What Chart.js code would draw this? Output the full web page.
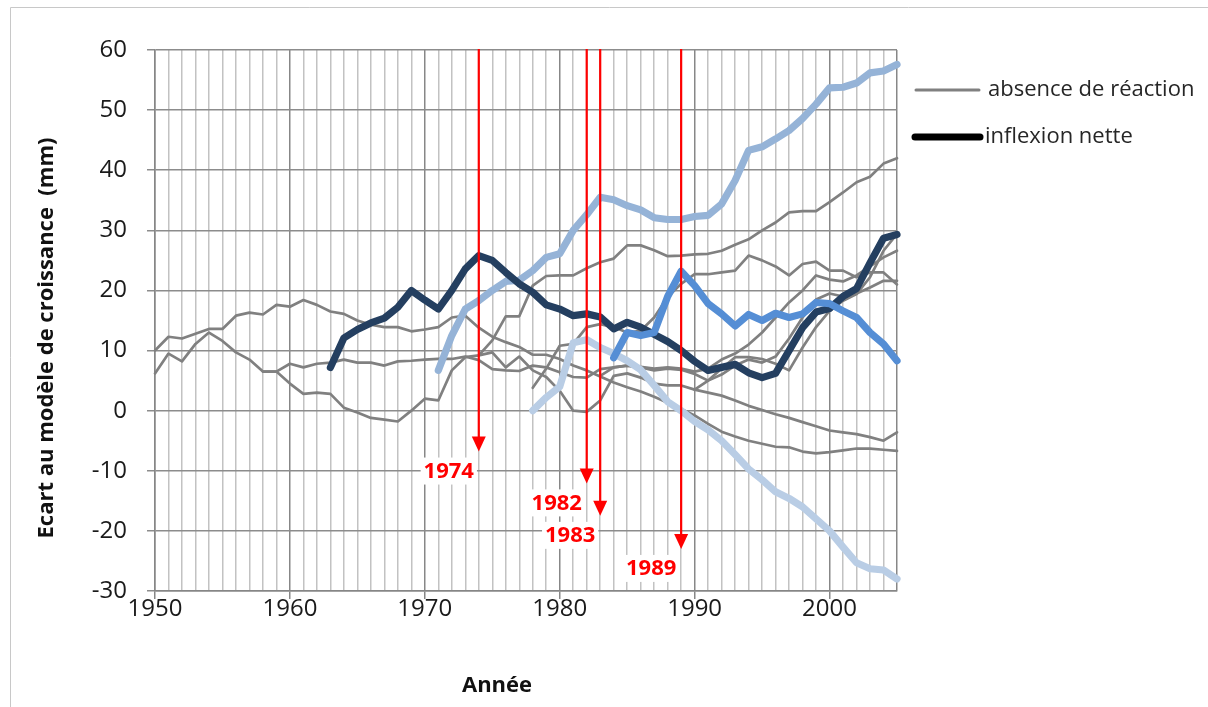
<!DOCTYPE html>
<html>
<head>
<meta charset="utf-8">
<script src="https://cdn.jsdelivr.net/npm/chart.js@4.4.1/dist/chart.umd.min.js"></script>
<style>
html,body{margin:0;padding:0;background:#fff;}
#wrap{position:relative;width:1208px;height:707px;}
canvas{display:block;}
</style>
</head>
<body>
<div id="wrap"><canvas id="c" width="1208" height="707"></canvas></div>
<script>
// ---- data (years and values) ----
const yTicks = [-30,-20,-10,0,10,20,30,40,50,60];
const xLabelYears = [1950,1960,1970,1980,1990,2000];

// gray series: "absence de réaction"
const g1Start = 1950;
const g1 = [10,12.3,12,12.8,13.6,13.6,15.8,16.3,16,17.6,17.3,18.4,17.6,16.5,16.1,15,14.3,13.9,13.9,13.2,13.5,
            13.9,15.5,15.8,13.8,12.3,11.4,10.6,9.3,9.3,8.6,
            7.5,6.7,5.7,4.7,3.9,3.2,2.3,1.3,0.3,-0.8,
            -2.2,-3.5,-4.3,-5,-5.5,-6,-6.1,-6.8,-7.1,-6.9,
            -6.6,-6.3,-6.3,-6.5,-6.7];
const g2Start = 1950;
const g2 = [6.2,9.5,8.2,11.1,13,11.6,9.7,8.5,6.5,6.5,4.5,2.8,3,2.8,0.5,-0.3,-1.2,-1.5,-1.8,0,2,
            1.7,6.7,8.9,9.2,11.7,15.7,15.7,20.8,22.4,22.5,
            22.5,23.7,24.7,25.3,27.5,27.5,26.7,25.7,25.8,26,
            26.1,26.6,27.6,28.5,30,31.3,33,33.2,33.2,34.7,
            36.3,38,38.9,41.1,42];
const g3Start = 1958;
const g3 = [6.5,6.5,7.8,7.2,7.8,8,8.5,8,8,7.5,8.2,8.3,8.5,
            8.6,8.6,9,8.4,6.9,6.7,6.6,7.5,7.2,6.4,
            5.6,5.5,6.9,7.2,7.5,7.2,6.7,7,6.8,6.1,
            5,7,8.9,8.9,8.6,7.8,6.7,10.5,13.9,16.6,
            18.3,19.4,22.2,26.6,29.4];
const g4Start = 1974;
const g4 = [9.2,9.7,7.2,9,6.7,5.6,3.3,
            0,-0.2,1.7,5.8,6.2,5.5,4.5,4.2,4.2,3.5,
            3,2.5,1.7,0.8,0.1,-0.6,-1.2,-1.9,-2.6,-3.3,
            -3.6,-3.9,-4.4,-5,-3.6];
const g5Start = 1978;
const g5 = [3.8,7,10.8,11.1,13.9,14.4,13.9,13,13.3,15.5,18.9,21.1,22.7,
            22.7,23,23.3,25.8,25,24,22.5,24.4,24.8,23.3,
            23.3,22.2,23,23,21];
const g6Start = 1983;
const g6 = [5.8,7.2,7.5,7.3,7,7.2,7,6.5,
            7,8.5,9.5,11,13,15.5,18,20,22.5,21.8,
            21.5,22.5,24,25.5,26.6];
const g7Start = 1990;
const g7 = [3.5,5,6,7.5,8.5,8,9,12,15.5,18.5,19.5,19,19.5,20.5,21.6,21.6];

// coloured series: "inflexion nette"
const navyStart = 1963;
const navy = [7.2,12.1,13.5,14.6,15.4,17.2,20,18.4,16.9,20,23.6,25.8,25,23,21.1,19.7,17.6,16.9,15.8,16.1,15.6,
              13.6,14.7,13.9,12.7,11.5,10,8.2,6.7,7.2,7.7,6.3,5.5,6.2,10,13.8,16.4,17,19,20.3,24.6,28.7,29.3];
const blueAStart = 1971;
const blueA = [6.7,12.5,16.9,18.3,20,21.5,21.7,23.3,25.5,26.1,30,32.6,35.5,35.1,34.1,33.4,32.1,31.8,31.8,32.3,
               32.5,34.4,38.3,43.3,43.9,45.2,46.6,48.6,51,53.7,53.8,54.5,56.2,56.5,57.6];
const blueBStart = 1984;
const blueB = [8.8,13,12.5,13,19,23.2,20.8,17.8,16.1,14.1,16,15,16.2,15.5,16.1,18,17.8,16.6,15.5,13,11.1,8.3];
const blueCStart = 1978;
const blueC = [0,2.2,4,11.3,11.8,10.5,9.5,8.3,6.8,4.2,1.5,0,-1.8,-3.2,-5,-7.3,-9.7,-11.5,-13.5,-14.6,-16,-18,-20,
               -22.7,-25.3,-26.3,-26.5,-28];

// red arrows: year and value of arrow tip
const arrowYears = [1974,1982,1983,1989];
const arrowTips  = [-6.8,-12.1,-17.5,-23];
const arrowLabels = ['1974','1982','1983','1989'];

const legendLabels = ['absence de réaction','inflexion nette'];
const xTitle = 'Année';
const yTitle = 'Ecart au modèle de croissance  (mm)';

// ---- build ----
function pts(start, vals){ return vals.map((v,i)=>({x:start+i,y:v})); }
const GRAY = '#808080';
function grayDs(start, vals){
  return {data:pts(start,vals), borderColor:GRAY, borderWidth:2.7, pointRadius:0, tension:0,
          borderJoinStyle:'round', borderCapStyle:'round', clip:6};
}
function colDs(start, vals, col){
  return {data:pts(start,vals), borderColor:col, borderWidth:7.2, pointRadius:0, tension:0,
          borderJoinStyle:'round', borderCapStyle:'round', clip:8};
}
const datasets = [
  colDs(blueBStart, blueB, '#558ED5'),
  colDs(navyStart, navy, '#243F60'),
  colDs(blueAStart, blueA, '#95B3D7'),
  colDs(blueCStart, blueC, '#B9CDE5'),
  grayDs(g1Start,g1), grayDs(g2Start,g2), grayDs(g3Start,g3), grayDs(g4Start,g4),
  grayDs(g5Start,g5), grayDs(g6Start,g6), grayDs(g7Start,g7)
];

const overlay = {
  id:'overlay',
  afterDatasetsDraw(chart){
    const ctx = chart.ctx, xs = chart.scales.x, ys = chart.scales.y;
    ctx.save();
    arrowYears.forEach((yr,i)=>{
      const x = xs.getPixelForValue(yr);
      const yTop = ys.getPixelForValue(60);
      const yTip = ys.getPixelForValue(arrowTips[i]);
      ctx.strokeStyle = '#FF0000'; ctx.lineWidth = 2.2;
      ctx.beginPath(); ctx.moveTo(x, yTop-1); ctx.lineTo(x, yTip-12); ctx.stroke();
      ctx.fillStyle = '#FF0000';
      ctx.beginPath(); ctx.moveTo(x-7, yTip-15); ctx.lineTo(x+7, yTip-15); ctx.lineTo(x, yTip); ctx.closePath(); ctx.fill();
      // label
      ctx.font = 'bold 22px "Open Sans"';
      const w = ctx.measureText(arrowLabels[i]).width;
      const cx = x - 30, cy = yTip + 19;
      ctx.fillStyle = '#FFFFFF';
      ctx.fillRect(cx - w/2 - 3, cy - 13, w + 6, 27);
      ctx.fillStyle = '#FF0000';
      ctx.textAlign = 'center'; ctx.textBaseline = 'middle';
      ctx.fillText(arrowLabels[i], cx, cy + 1);
    });
    ctx.restore();
  },
  afterDraw(chart){
    const ctx = chart.ctx;
    ctx.save();
    // outer frame
    ctx.strokeStyle = '#C8C8C8'; ctx.lineWidth = 1;
    ctx.beginPath(); ctx.moveTo(10.5, 707); ctx.lineTo(10.5, 7.5); ctx.lineTo(1208, 7.5); ctx.stroke();
    // axis titles
    ctx.fillStyle = '#111'; ctx.textAlign='center'; ctx.textBaseline='middle';
    ctx.font = 'bold 22px "Open Sans"';
    ctx.fillText(xTitle, 497, 686);
    ctx.translate(47, 338); ctx.rotate(-Math.PI/2);
    ctx.fillText(yTitle, 0, 0);
    ctx.setTransform(1,0,0,1,0,0);
    // legend
    ctx.lineCap = 'round';
    ctx.strokeStyle = GRAY; ctx.lineWidth = 3;
    ctx.beginPath(); ctx.moveTo(916, 90); ctx.lineTo(979, 90); ctx.stroke();
    ctx.strokeStyle = '#000'; ctx.lineWidth = 7;
    ctx.beginPath(); ctx.moveTo(915, 137); ctx.lineTo(980, 137); ctx.stroke();
    ctx.fillStyle = '#262626'; ctx.textAlign='left'; ctx.textBaseline='middle';
    ctx.font = '22px "Open Sans"';
    ctx.fillText(legendLabels[0], 988, 90);
    ctx.fillText(legendLabels[1], 985, 137);
    ctx.restore();
  }
};

new Chart(document.getElementById('c'), {
  type:'line',
  data:{datasets},
  options:{
    responsive:false, animation:false, events:[],
    layout:{padding:{left:0,right:311,top:50,bottom:0}},
    plugins:{legend:{display:false}, tooltip:{enabled:false}},
    scales:{
      x:{type:'linear', min:1950, max:2005,
         afterFit(s){ s.height = 116; },
         border:{display:true,color:'#868686',width:1.5},
         grid:{
           color:(c)=>{ const v=c.tick?c.tick.value:0; return (v%10===0||v===2005)?'#878787':'#C2C2C2'; },
           lineWidth:1.5,
           tickColor:(c)=>{ const v=c.tick?c.tick.value:0; return (v%10===0)?'#878787':'rgba(0,0,0,0)'; },
           tickLength:8
         },
         ticks:{stepSize:1, autoSkip:false, maxRotation:0, padding:-4,
                color:'#1a1a1a', font:{family:'"Open Sans"', size:24},
                callback:(v)=> xLabelYears.includes(v) ? String(v) : ''}
      },
      y:{type:'linear', min:-30, max:60,
         afterFit(s){ s.width = 155; },
         border:{display:true,color:'#868686',width:1.5},
         grid:{color:'#8C8C8C', lineWidth:1.5, tickLength:8, tickColor:'#8C8C8C'},
         ticks:{stepSize:10, padding:20, color:'#1a1a1a', font:{family:'"Open Sans"', size:24},
                callback:(v)=> yTicks.includes(v) ? String(v) : ''}
      }
    }
  },
  plugins:[overlay]
});
</script>
</body>
</html>
